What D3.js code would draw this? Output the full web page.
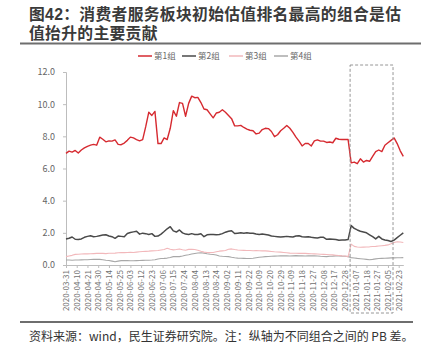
<!DOCTYPE html>
<html><head><meta charset="utf-8">
<script src="https://cdn.jsdelivr.net/npm/d3@7/dist/d3.min.js"></script>
<style>
html,body{margin:0;padding:0;background:#fff;}
svg{display:block;}
text{font-family:"Noto Sans CJK SC","Noto Sans",sans-serif;}
</style></head>
<body>
<svg id="chart" width="429" height="355"></svg>
<script>
// tick labels: every 7th trading day starting 2020-03-31
const tickLabels = ["2020-03-31","2020-04-10","2020-04-21","2020-04-30","2020-05-14","2020-05-25","2020-06-03","2020-06-12","2020-06-23","2020-07-06","2020-07-15","2020-07-24","2020-08-04","2020-08-13","2020-08-24","2020-09-02","2020-09-11","2020-09-22","2020-10-09","2020-10-20","2020-10-29","2020-11-09","2020-11-18","2020-11-27","2020-12-08","2020-12-17","2020-12-28","2021-01-07","2021-01-18","2021-01-27","2021-02-05","2021-02-23"];
const ticksEvery = 7;     // trading days between labels
const sampleStep = 2;     // trading days between samples
const lastDay = 220;
const seriesNames = ["第1组","第2组","第3组","第4组"];
const yTicks = [0,2,4,6,8,10,12];
const titleLines = ["图42：消费者服务板块初始估值排名最高的组合是估","值抬升的主要贡献"];

const group1 = [6.94,7.08,7.02,7.12,6.96,7.15,7.28,7.38,7.45,7.5,
7.45,7.95,7.82,7.66,7.72,7.7,7.78,7.5,7.48,7.58,
7.75,7.95,7.9,7.8,7.72,7.8,8.6,9.5,9.3,9.55,
7.55,7.55,7.9,7.8,8.5,9.6,9.25,10.1,10.05,9.25,
10.05,10.5,10.4,10.42,10.1,9.7,9.65,9.4,9.15,9.45,
9.5,9.65,9.5,9.3,9.1,8.65,8.65,8.68,8.55,8.45,
8.38,8.35,8.15,8.2,8.42,8.5,8.48,8.3,7.98,8.1,
8.35,8.5,8.68,8.5,8.25,7.95,7.7,7.4,7.55,7.55,
7.4,7.72,7.78,7.7,7.7,7.62,7.65,7.6,7.88,7.82,
7.8,7.8,7.8,6.35,6.4,6.3,6.6,6.4,6.5,6.45,
6.75,7.05,7.15,7.05,7.45,7.6,7.75,7.9,7.55,7.1,
6.75];
const group2 = [1.62,1.66,1.74,1.6,1.58,1.62,1.72,1.78,1.82,1.76,
1.78,1.82,1.86,1.88,1.8,1.76,1.66,1.8,1.78,1.76,
1.96,2.02,2.06,2.1,1.92,1.98,1.95,1.9,1.95,1.78,
1.8,1.92,2.08,2.25,2.38,2.12,2.05,2.18,2.0,1.92,
1.9,1.95,1.9,1.9,1.94,1.76,1.88,1.9,1.9,1.88,
1.9,1.95,2.04,2.1,2.13,1.96,1.98,2.0,1.98,2.0,
1.98,1.97,1.93,1.9,1.92,1.9,1.86,1.8,1.78,1.76,
1.74,1.76,1.78,1.76,1.74,1.8,1.82,1.76,1.74,1.75,
1.72,1.7,1.68,1.72,1.72,1.6,1.62,1.6,1.58,1.54,
1.55,1.55,1.58,2.45,2.28,2.18,2.1,2.05,2.0,1.88,
1.76,1.62,1.78,1.62,1.56,1.52,1.46,1.55,1.7,1.85,
2.0];
const group3 = [0.52,0.56,0.6,0.66,0.67,0.68,0.69,0.69,0.7,0.71,
0.72,0.73,0.72,0.71,0.73,0.73,0.74,0.76,0.78,0.77,
0.78,0.79,0.78,0.8,0.82,0.84,0.85,0.86,0.88,0.89,
0.9,0.93,0.96,1.04,0.98,0.94,0.96,1.0,0.95,0.92,
0.97,0.98,0.96,0.92,0.85,0.8,0.78,0.77,0.78,0.82,
0.86,0.88,0.9,0.98,1.0,0.96,0.93,0.92,0.91,0.9,
0.9,0.89,0.9,0.89,0.88,0.88,0.86,0.84,0.82,0.81,
0.8,0.78,0.76,0.74,0.73,0.73,0.72,0.72,0.72,0.71,
0.7,0.69,0.68,0.67,0.66,0.65,0.64,0.63,0.61,0.59,
0.57,0.56,0.52,1.3,1.16,1.12,1.1,1.11,1.12,1.13,
1.15,1.16,1.18,1.2,1.22,1.25,1.32,1.4,1.45,1.43,
1.4];
const group4 = [0.31,0.31,0.3,0.31,0.31,0.32,0.33,0.33,0.34,0.35,
0.35,0.35,0.33,0.3,0.28,0.24,0.2,0.24,0.27,0.28,
0.27,0.26,0.26,0.27,0.28,0.29,0.3,0.3,0.31,0.33,
0.37,0.4,0.41,0.43,0.47,0.52,0.52,0.52,0.56,0.61,
0.64,0.68,0.72,0.75,0.76,0.74,0.7,0.67,0.65,0.62,
0.56,0.54,0.53,0.52,0.48,0.45,0.43,0.42,0.41,0.4,
0.4,0.42,0.45,0.48,0.5,0.52,0.53,0.54,0.55,0.56,
0.57,0.57,0.57,0.56,0.57,0.58,0.57,0.57,0.56,0.57,
0.57,0.57,0.56,0.54,0.53,0.52,0.54,0.55,0.57,0.57,
0.55,0.54,0.52,0.46,0.44,0.41,0.39,0.37,0.35,0.33,
0.35,0.38,0.4,0.41,0.42,0.43,0.44,0.44,0.45,0.45,
0.46];
// highlighted window (trading-day index)
const highlightStart = 185.3, highlightEnd = 213.3;

const colors = ["#d62a30","#4a4a4a","#f2b8bb","#a8a8a8"];
const widths = [1.4,1.5,1.1,1.1];
const allSeries = [group1,group2,group3,group4];

const svg = d3.select("#chart");
const x = d3.scaleLinear().domain([0,lastDay]).range([66,403.3]);
const y = d3.scaleLinear().domain([0,12]).range([265,72]);

// title (one text element, two lines)
const title = svg.append("text").attr("fill","#3a3a3a").attr("font-weight","bold").attr("font-size","15.8px")
  .style("font-family","'Liberation Sans','Noto Sans CJK SC',sans-serif");
title.selectAll("tspan").data(titleLines).join("tspan")
  .attr("x",29).attr("y",(d,i)=>i===0?20:39).attr("letter-spacing","0.3px").text(d=>d);
svg.append("line").attr("x1",20).attr("x2",421).attr("y1",43.5).attr("y2",43.5).attr("stroke","#6e6e6e").attr("stroke-width",2);

// legend
const legendX = [138,182,229,274];
seriesNames.forEach((n,i)=>{
  const g = svg.append("g").attr("transform",`translate(${legendX[i]},56)`);
  g.append("line").attr("x1",0).attr("x2",14).attr("y1",0).attr("y2",0).attr("stroke",colors[i]).attr("stroke-width",1.5);
  g.append("text").attr("x",16).attr("y",3).attr("font-size","8.5px").attr("fill","#666").text(n);
});

// y axis
const yAxis = d3.axisLeft(y).tickValues(yTicks).tickFormat(d3.format(".1f")).tickSize(3).tickPadding(8);
const gy = svg.append("g").attr("transform","translate(66,0)").call(yAxis);
gy.select(".domain").attr("stroke","#bdbdbd");
gy.selectAll(".tick line").attr("stroke","#bdbdbd");
gy.selectAll(".tick text").attr("fill","#666").attr("font-size","9px").attr("font-family","Liberation Sans, Arial, sans-serif");

// x axis
const xTickVals = tickLabels.map((d,i)=>i*ticksEvery);
const xAxis = d3.axisBottom(x).tickValues(xTickVals).tickFormat((d,i)=>tickLabels[i]).tickSize(3).tickSizeOuter(0);
const gx = svg.append("g").attr("transform","translate(0,265)").call(xAxis);
gx.select(".domain").attr("stroke","#bdbdbd");
gx.selectAll(".tick line").attr("stroke","#bdbdbd");
gx.selectAll(".tick text").attr("fill","#707070").attr("font-size","8px")
  .attr("font-family","Liberation Sans, Arial, sans-serif")
  .attr("transform","rotate(-90)").attr("text-anchor","end").attr("dx","-5").attr("dy","0.32em").attr("x",0).attr("y",0);

// lines (draw back to front)
const line = d3.line().x((d,i)=>x(i*sampleStep)).y(d=>y(d));
[3,2,1,0].forEach(k=>{
  svg.append("path").datum(allSeries[k]).attr("d",line)
    .attr("fill","none").attr("stroke",colors[k]).attr("stroke-width",widths[k]).attr("stroke-linejoin","round");
});

// dashed highlight box
svg.append("rect").attr("x",x(highlightStart)).attr("y",65)
  .attr("width",x(highlightEnd)-x(highlightStart)).attr("height",248)
  .attr("fill","none").attr("stroke","#8a8a8a").attr("stroke-width",0.9).attr("stroke-dasharray","3,2");

// footer
svg.append("line").attr("x1",20).attr("x2",413).attr("y1",322).attr("y2",322).attr("stroke","#6e6e6e").attr("stroke-width",2);
svg.append("text").attr("x",29).attr("y",341).attr("font-size","12px").attr("fill","#333")
  .text("资料来源：wind，民生证券研究院。注：纵轴为不同组合之间的 PB 差。");
</script>
</body></html>
